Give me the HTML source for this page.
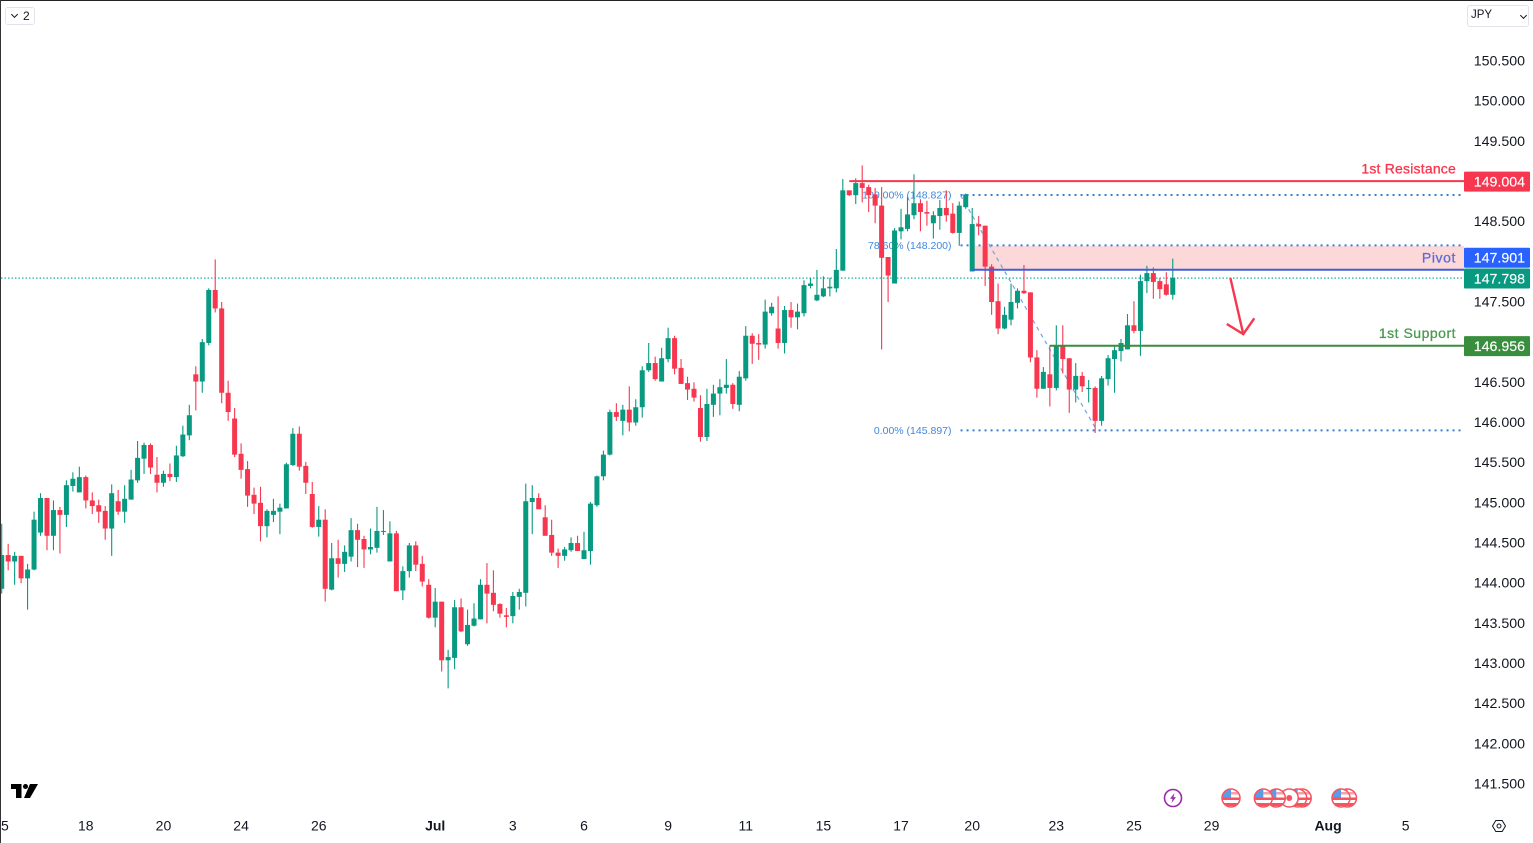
<!DOCTYPE html>
<html lang="en">
<head>
<meta charset="utf-8">
<title>USD/JPY 4H chart</title>
<style>
html,body{margin:0;padding:0;width:1533px;height:843px;overflow:hidden;background:#fff;font-family:"Liberation Sans",sans-serif;color:#131722}
#chart{position:absolute;left:0;top:0;display:block}
.ctl{position:absolute;box-sizing:border-box;background:#fff;border:1px solid #e0e3eb;border-radius:3px;font-size:12px;line-height:16px}
#interval{left:5px;top:7px;width:30px;height:18px}
#currency{left:1467px;top:5px;width:62px;height:22px;line-height:19px;padding-left:3px;font-size:11.5px}
.chev{position:absolute;width:4px;height:4px;border-right:1px solid #131722;border-bottom:1px solid #131722;transform:rotate(45deg)}
</style>
</head>
<body>
<svg id="chart" xmlns="http://www.w3.org/2000/svg" width="1533" height="843" viewBox="0 0 1533 843"></svg>

<div id="interval" class="ctl">
  <span class="chev" style="left:6px;top:4px"></span>
  <span style="position:absolute;left:17px;top:0">2</span>
</div>
<div id="currency" class="ctl">JPY
  <span class="chev" style="left:53px;top:7px"></span>
</div>

<script>
const opens=[143.93,144.35,144.27,144.34,144.06,144.17,144.63,145.06,144.59,144.91,
144.85,145.21,145.13,145.32,145.03,144.97,144.90,144.68,145.02,144.89,
145.04,145.28,145.55,145.72,145.35,145.25,145.36,145.32,145.58,145.84,
146.60,146.51,146.99,147.65,147.42,146.37,146.05,145.61,145.42,145.10,
145.00,144.71,144.85,144.89,144.93,145.47,145.86,145.46,145.11,144.70,
144.79,143.92,144.31,144.24,144.33,144.66,144.55,144.42,144.44,144.64,
144.27,144.62,143.91,144.15,144.47,144.24,143.98,143.57,143.77,143.04,
143.07,143.70,143.24,143.47,143.55,143.98,143.88,143.74,143.60,143.59,
143.83,143.88,145.01,145.06,144.82,144.60,144.38,144.34,144.41,144.50,
144.30,144.40,144.97,145.33,145.60,146.13,146.02,146.16,146.00,146.19,
146.65,146.74,146.51,146.79,147.05,146.68,146.49,146.42,146.18,145.82,
146.22,146.36,146.43,146.47,146.22,146.55,147.08,146.99,146.97,147.36,
147.17,146.99,147.40,147.31,147.36,147.70,147.52,147.57,147.67,147.67,
147.89,148.89,148.83,148.98,148.93,148.84,148.70,148.06,147.73,148.38,
148.41,148.58,148.73,148.62,148.48,148.57,148.67,148.60,148.36,148.68,
147.88,148.47,148.45,147.94,147.51,147.17,147.28,147.49,147.64,147.62,
146.81,146.42,146.60,146.43,146.96,146.80,146.41,146.58,146.42,146.43,
146.02,146.54,146.79,146.89,146.91,147.21,147.14,147.76,147.86,147.76,147.72,147.59];
const highs=[144.74,144.49,144.39,144.34,144.24,144.89,145.12,145.06,145.03,144.95,
145.28,145.38,145.45,145.34,145.13,145.04,144.96,145.23,145.16,145.22,
145.41,145.77,145.75,145.74,145.57,145.40,145.49,145.71,145.96,146.22,
146.70,147.04,147.67,148.03,147.50,146.52,146.18,145.74,145.52,145.19,
145.20,144.92,145.05,144.99,145.50,145.93,145.95,145.51,145.26,144.96,
144.92,144.50,144.54,144.47,144.81,144.74,144.59,144.68,144.95,144.91,
144.77,144.65,144.21,144.50,144.52,144.34,144.05,143.94,143.77,143.17,
143.79,143.81,143.67,143.75,144.05,144.25,144.16,143.75,143.69,143.89,
143.93,145.24,145.22,145.12,144.97,144.79,144.43,144.45,144.57,144.59,
144.64,145.01,145.34,145.65,146.16,146.24,146.22,146.45,146.29,146.70,
146.99,146.82,146.93,147.18,147.08,146.79,146.57,146.50,146.34,146.42,
146.47,146.54,146.79,146.49,146.64,147.20,147.11,147.10,147.53,147.49,
147.57,147.45,147.50,147.48,147.77,147.80,147.90,147.82,147.80,148.16,
149.03,148.89,149.04,149.20,148.96,148.92,148.93,148.06,148.42,148.66,
148.81,149.09,148.78,148.76,148.63,148.77,148.89,148.73,148.75,148.85,
148.67,148.57,148.45,147.97,147.73,147.44,147.73,147.67,147.96,147.62,
146.90,146.69,146.96,147.21,147.21,146.80,146.74,146.63,146.53,146.45,
146.58,146.84,146.95,147.04,147.35,147.51,147.84,147.95,147.93,147.80,147.87,148.04];
const lows=[143.87,144.16,143.98,144.00,143.67,144.16,144.59,144.41,144.41,144.37,
144.70,145.14,145.13,144.93,144.86,144.75,144.54,144.34,144.85,144.75,
145.04,145.25,145.36,145.36,145.13,145.20,145.27,145.26,145.57,145.78,
146.15,146.37,146.96,147.37,146.24,146.02,145.57,145.30,144.95,144.86,
144.52,144.57,144.76,144.61,144.93,145.46,145.40,145.11,144.69,144.58,
143.77,143.91,144.07,144.14,144.27,144.20,144.19,144.36,144.38,144.60,
144.27,143.90,143.79,144.07,144.15,143.96,143.56,143.45,142.90,142.69,
142.93,143.39,143.22,143.46,143.55,143.50,143.65,143.57,143.45,143.50,
143.67,143.71,144.61,144.92,144.59,144.34,144.19,144.28,144.39,144.40,
144.30,144.23,144.95,145.28,145.59,146.02,145.84,145.89,145.96,146.06,
146.63,146.52,146.51,146.75,146.60,146.48,146.28,146.26,145.76,145.77,
146.07,146.09,146.36,146.17,146.14,146.52,146.73,146.78,146.92,147.33,
146.92,146.86,147.18,147.16,147.32,147.67,147.51,147.56,147.57,147.62,
147.89,148.82,148.72,148.74,148.62,148.48,146.91,147.50,147.73,148.28,
148.38,148.53,148.38,148.45,148.29,148.40,148.50,148.35,148.20,148.66,
147.88,148.33,147.70,147.34,147.10,147.16,147.21,147.42,147.60,146.75,
146.31,146.42,146.20,146.40,146.61,146.12,146.25,146.38,146.25,145.87,
145.96,146.46,146.37,146.76,146.91,147.11,146.83,147.61,147.54,147.54,147.58,147.53];
const closes=[144.35,144.27,144.34,144.06,144.17,144.79,145.06,144.59,144.91,144.85,
145.22,145.30,145.32,145.03,144.96,144.89,144.68,145.12,144.89,145.05,
145.29,145.56,145.72,145.44,145.25,145.36,145.32,145.59,145.85,146.09,
146.51,147.00,147.65,147.42,146.37,146.13,145.60,145.41,145.09,144.99,
144.71,144.90,144.90,144.94,145.48,145.86,145.45,145.25,144.70,144.79,
143.93,144.31,144.24,144.39,144.66,144.54,144.42,144.45,144.65,144.65,
144.62,143.90,144.15,144.47,144.23,144.02,143.57,143.77,143.04,143.08,
143.70,143.40,143.48,143.56,143.98,143.87,143.73,143.62,143.58,143.84,
143.89,145.02,145.06,144.92,144.59,144.38,144.34,144.42,144.50,144.40,
144.41,144.99,145.33,145.60,146.13,146.07,146.16,146.00,146.19,146.65,
146.74,146.54,146.80,147.05,146.67,146.48,146.41,146.31,145.82,146.23,
146.36,146.44,146.47,146.23,146.57,147.08,146.98,146.97,147.38,147.44,
146.99,147.40,147.31,147.38,147.71,147.73,147.59,147.67,147.69,147.90,
148.89,148.83,148.98,148.92,148.83,148.70,148.05,147.83,148.39,148.43,
148.59,148.73,148.62,148.60,148.58,148.67,148.58,148.36,148.70,148.84,
148.47,148.44,147.94,147.50,147.17,147.34,147.50,147.64,147.61,146.81,
146.42,146.63,146.43,146.96,146.79,146.41,146.58,146.45,146.43,146.02,
146.55,146.80,146.90,146.99,147.21,147.14,147.76,147.86,147.75,147.66,147.59,147.80];

const priceTicks=[150.5,150,149.5,148.5,147.5,146.5,146,145.5,145,144.5,144,143.5,143,142.5,142,141.5];
const priceTickLabels=["150.500","150.000","149.500","148.500","147.500","146.500","146.000","145.500","145.000","144.500","144.000","143.500","143.000","142.500","142.000","141.500"];
const timeTickLabels=["5","18","20","24","26","Jul","3","6","9","11","15","17","20","23","25","29","Aug","5"];
const timeTickSlots=[0.5,13,25,37,49,67,79,90,103,115,127,139,150,163,175,187,205,217];
const boldTimeTicks=["Jul","Aug"];

const lastPrice=147.798;
const resistancePrice=149.004;
const pivotPrice=147.901;
const supportPrice=146.956;
const fibPrices=[148.827,148.200,145.897];
const fibLabels=["100.00% (148.827)","78.60% (148.200)","0.00% (145.897)"];
const eventSlots=[201,200.3,199,197,195,190,208,207];
const eventKinds=["us","us","jp","us","us","us","us","us"];

const PANE_RIGHT=1464;
function yOf(p){return 61+(150.5-p)*80.333;}
function xOf(i){return 1.7+6.47*i;}

const NS="http://www.w3.org/2000/svg";
const svg=document.getElementById("chart");
function make(tag,attrs,parent){
  const e=document.createElementNS(NS,tag);
  for(const k in attrs)e.setAttribute(k,attrs[k]);
  (parent||svg).appendChild(e);
  return e;
}
const RED="#f7374f",GREEN="#089981",FIB="#2f80e0";
const FONT='"Liberation Sans",sans-serif';

/* pivot zone */
const zone=make("rect",{x:xOf(150),y:yOf(148.2),width:PANE_RIGHT-xOf(150),height:yOf(pivotPrice)-yOf(148.2),fill:"#fdd8d8"});



/* fibonacci labels sit beneath candles */
fibPrices.forEach(function(p,i){
  const t=make("text",{x:951.5,y:yOf(p)+3,"text-anchor":"end","font-family":FONT,"font-size":"10.5",fill:"#3f88dc"});
  t.textContent=fibLabels[i];
  
  
  const l=make("line",{x1:xOf(148.2),x2:PANE_RIGHT,y1:yOf(p)-0.4,y2:yOf(p)-0.4,stroke:FIB,"stroke-width":"2","stroke-dasharray":"2 4"});
  
  
});
const fibDiag=make("line",{x1:xOf(148.2),y1:yOf(fibPrices[0]),x2:xOf(169.3),y2:yOf(fibPrices[2]),stroke:"#6ba6e8","stroke-width":"1.2","stroke-dasharray":"4 4"});



/* last price line */
const lastLine=make("line",{x1:1,x2:PANE_RIGHT,y1:yOf(lastPrice),y2:yOf(lastPrice),stroke:"#00a98f","stroke-width":"1.2","stroke-dasharray":"1.5 2"});



/* candles */
const candleLayer=make("g",{});


opens.forEach(function(o,i){
  const c=closes[i],col=c>=o?GREEN:RED,x=xOf(i);
  const g=make("g",{},candleLayer);
  
  
  make("line",{x1:x,x2:x,y1:yOf(highs[i]),y2:yOf(lows[i]),stroke:col,"stroke-width":"1.1"},g);
  const top=yOf(Math.max(o,c)),bot=yOf(Math.min(o,c));
  make("rect",{x:x-2.5,y:top,width:5,height:Math.max(1,bot-top),fill:col},g);
});

/* levels */
function level(p,startSlot,col,name){
  const l=make("line",{x1:xOf(startSlot),x2:PANE_RIGHT,y1:yOf(p),y2:yOf(p),stroke:col,"stroke-width":"2"});
  
  
}
level(resistancePrice,131,RED,'resistance-line');
level(pivotPrice,150,"#3f5fdc",'pivot-line');
level(supportPrice,162,"#388e3c",'support-line');

/* level captions */
function caption(txt,p,col,name,spacing){
  const t=make("text",{x:1456,y:yOf(p)-7.5,"text-anchor":"end","font-family":FONT,"font-size":"14","letter-spacing":spacing,fill:col,stroke:col,"stroke-width":"0.3"});
  t.textContent=txt;
  
  
}
caption("1st Resistance",resistancePrice,RED,'resistance-label',"0.2");
caption("Pivot",pivotPrice,"#5b6bd8",'pivot-label',"0.6");
caption("1st Support",supportPrice,"#4c9a50",'support-label',"0.5");

/* forecast arrow */
const arrowSlots=[189.9,191.9];
const arrowPrices=[147.80,147.10];
const arrowHeadSlots=[189.35,191.9,193.6];
const arrowHeadPrices=[147.226,147.10,147.297];
const arrowShaft=make("line",{x1:xOf(arrowSlots[0]),y1:yOf(arrowPrices[0]),x2:xOf(arrowSlots[1]),y2:yOf(arrowPrices[1]),stroke:RED,"stroke-width":"2.4"});


const arrowHead=make("polyline",{points:arrowHeadSlots.map(function(s,i){return xOf(s)+","+yOf(arrowHeadPrices[i]);}).join(" "),fill:"none",stroke:RED,"stroke-width":"2.4"});



/* price axis */
priceTicks.forEach(function(p,i){
  const t=make("text",{x:1525,y:yOf(p)+4.5,"text-anchor":"end","font-family":FONT,"font-size":"14.2",fill:"#131722"});
  t.textContent=priceTickLabels[i];
  
  
});

/* time axis */
timeTickLabels.forEach(function(s,i){
  const bold=boldTimeTicks.indexOf(s)>=0;
  const t=make("text",{x:xOf(timeTickSlots[i]),y:830.5,"text-anchor":"middle","font-family":FONT,"font-size":"14","font-weight":bold?"bold":"normal",fill:"#131722"});
  t.textContent=s;
  
  
});

/* price boxes */
function priceBox(p,txt,col,name,offset){
  const cy=yOf(p)+offset;
  const g=make("g",{});
  
  
  make("rect",{x:1464,y:cy-10,width:66,height:20,rx:1,fill:col},g);
  const t=make("text",{x:1525,y:cy+4.7,"text-anchor":"end","font-family":FONT,"font-size":"14.2",fill:"#fff",stroke:"#fff","stroke-width":"0.15"},g);
  t.textContent=txt;
}
priceBox(resistancePrice,"149.004",RED,'resistance-price-box',0.4);
priceBox(pivotPrice,"147.901","#2962ff",'pivot-price-box',-12);
priceBox(lastPrice,"147.798",GREEN,'last-price-box',0.5);
priceBox(supportPrice,"146.956","#388e3c",'support-price-box',0.4);

/* event markers */
const fg=make("g",{});


eventSlots.forEach(function(s,i){
  const cx=xOf(s),cy=798,id="ev"+i;
  const g=make("g",{},fg);
  
  
  const clip=make("clipPath",{id:id},g);
  make("circle",{cx:cx,cy:cy,r:8.5},clip);
  make("circle",{cx:cx,cy:cy,r:9,fill:"#fff"},g);
  if(eventKinds[i]==="us"){
    const cg=make("g",{"clip-path":"url(#"+id+")"},g);
    make("rect",{x:cx-9,y:cy-0.5,width:18,height:2.5,fill:"#f7525f"},cg);
    make("rect",{x:cx-9,y:cy+5,width:18,height:3,fill:"#f7525f"},cg);
    make("rect",{x:cx,y:cy-6,width:9,height:2.5,fill:"#f7a0a8"},cg);
    make("rect",{x:cx-9,y:cy-9,width:9,height:8.5,fill:"#5b9ce6"},cg);
  }else{
    make("circle",{cx:cx,cy:cy,r:3,fill:"#f7525f"},g);
  }
  make("circle",{cx:cx,cy:cy,r:9,fill:"none",stroke:"#f7525f","stroke-width":"1.5"},g);
});
</script>

<svg style="position:absolute;left:0;top:0;pointer-events:none" width="1533" height="843" viewBox="0 0 1533 843">
  <rect x="0" y="0" width="1533" height="1" fill="#222"/>
  <rect x="0" y="0" width="1" height="843" fill="#333"/>
  <g fill="#000">
    <polygon points="11,784 21.5,784 21.5,798 16,798 16,789 11,789"/>
    <circle cx="25.5" cy="786.5" r="2.5"/>
    <polygon points="30,784 38,784 30,798 24,798"/>
  </g>
  <g>
    <circle cx="1173" cy="798" r="8.5" fill="#fff" stroke="#9c27b0" stroke-width="1.6"/>
    <polygon points="1174.5,793 1170,798.8 1172.6,798.8 1171.5,803 1176,797.2 1173.4,797.2" fill="#9c27b0"/>
  </g>
  <g fill="none" stroke="#131722" stroke-width="1">
    <polygon points="1492.5,826 1495.8,820.5 1502.2,820.5 1505.5,826 1502.2,831.5 1495.8,831.5"/>
    <circle cx="1499" cy="826" r="2"/>
  </g>
</svg>
</body>
</html>
